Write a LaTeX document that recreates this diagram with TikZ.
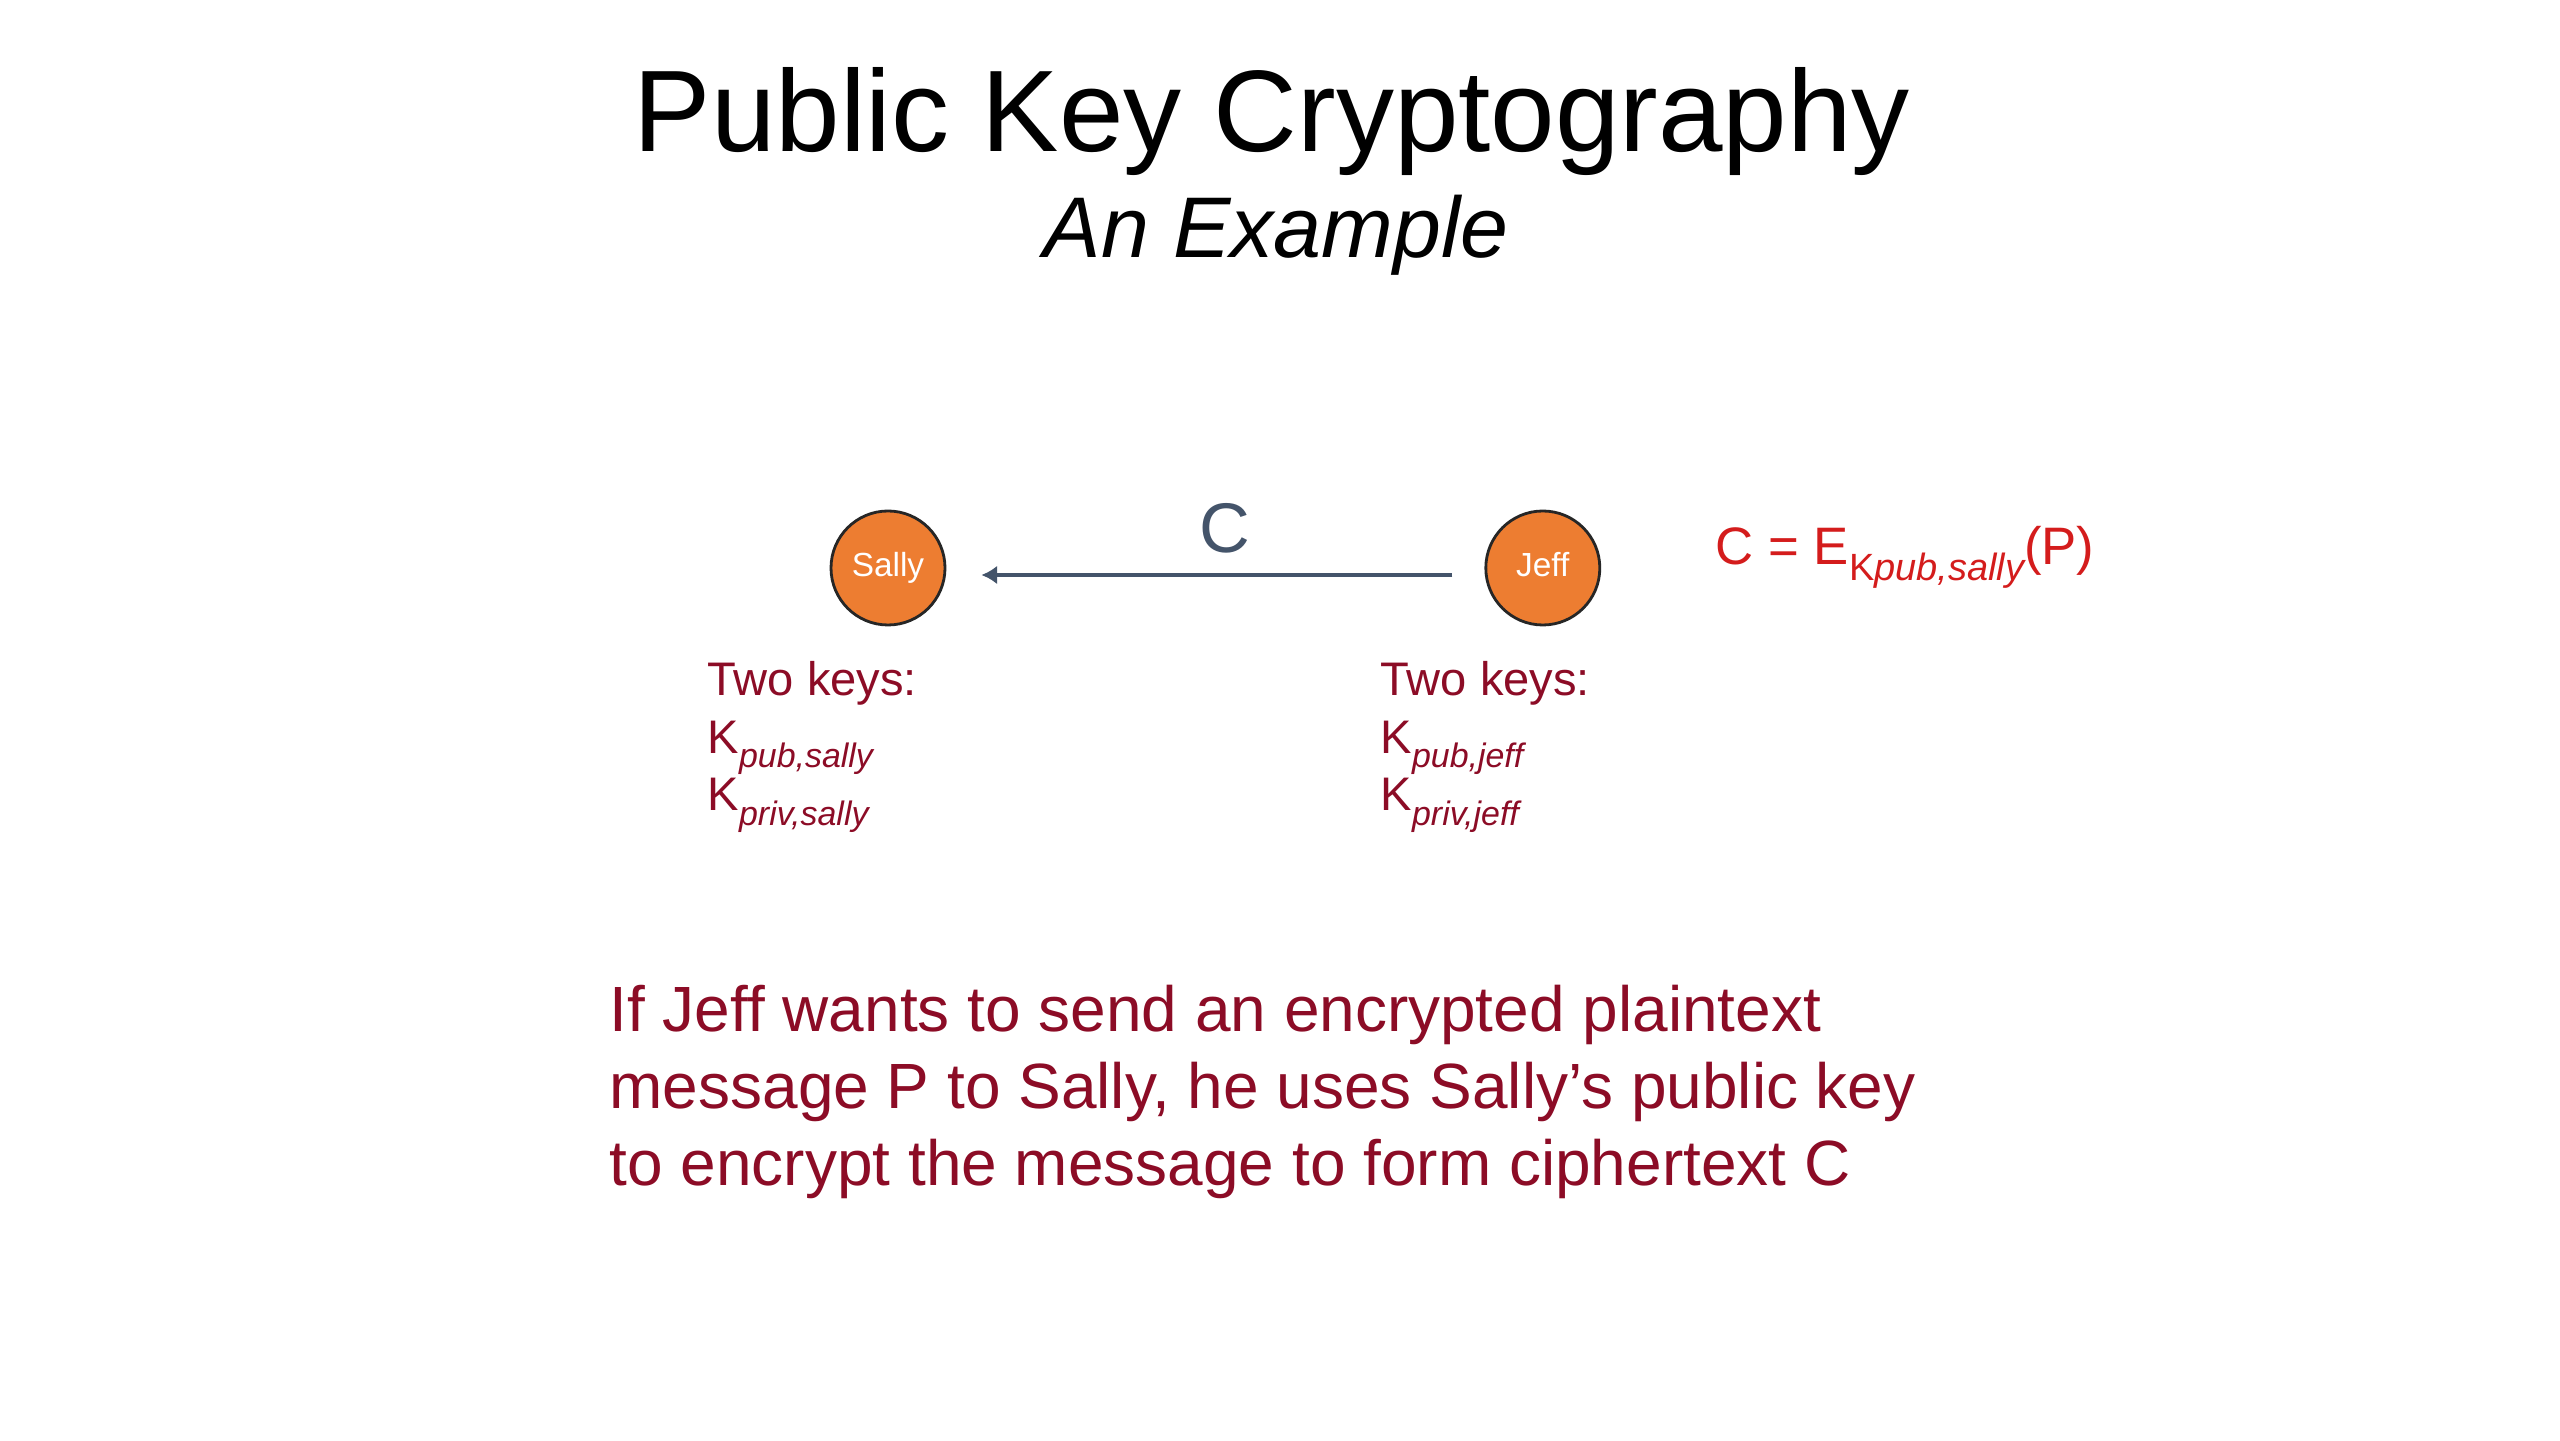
\documentclass[tikz,border=0pt]{standalone}
\usepackage{fontspec}
\setmainfont{Liberation Sans}
\usepackage{graphicx}
\usepackage{tikz}
\usetikzlibrary{arrows.meta,positioning}
\definecolor{SlideOrange}{RGB}{237,125,49}
\definecolor{KeyMaroon}{RGB}{140,12,38}
\definecolor{FormulaRed}{RGB}{212,28,28}
\definecolor{ArrowSlate}{RGB}{68,84,106}
\newcommand{\keysub}[1]{\raisebox{-.3em}{\scalebox{.72}{#1}}}

\begin{document}
\begin{tikzpicture}[>=Latex,
  person/.style={circle,draw=black!85,line width=.8pt,fill=SlideOrange,minimum size=1.14cm,inner sep=0pt,text height=7pt,text depth=2pt,text=white,font=\fontsize{9.5}{11}\selectfont},
  keys/.style={KeyMaroon,align=left,anchor=base west,inner sep=0pt,font=\fontsize{13.4}{16.5}\selectfont}]
\fill[white] (0,0) rectangle (25.6,14.4);
\useasboundingbox (0,0) rectangle (25.6,14.4);
\node[anchor=base,font=\fontsize{33}{40}\selectfont] (title) at (12.72,12.88){Public Key Cryptography};
\node[anchor=base,font=\fontsize{24.5}{30}\selectfont\itshape] (subtitle) at (12.76,11.82){An Example};
\node[person] (sally) at (8.88,8.72){Sally};
\node[person,right=5.38cm of sally] (jeff){Jeff};
\draw[->,ArrowSlate,line width=1.1pt,arrows={-Latex[length=4.5pt,width=5.4pt]},shorten <=.32cm,shorten >=.35cm] ([yshift=-.07cm]jeff.west) -- ([yshift=-.07cm]sally.east)
  node[midway,above=.2cm,inner sep=0pt,xshift=.09cm,font=\fontsize{20}{24}\selectfont]{C};
\node[FormulaRed,anchor=base west,inner sep=0pt,font=\fontsize{15}{18}\selectfont] (formula) at (17.15,8.75){C = E\keysub{K\itshape pub,sally}(P)};
% anchor base is the last line
\node[keys] (sallykeys) at (7.07,6.29){Two keys:\\K\keysub{\itshape pub,sally}\\K\keysub{\itshape priv,sally}};
\node[keys] (jeffkeys) at (13.80,6.29){Two keys:\\K\keysub{\itshape pub,jeff}\\K\keysub{\itshape priv,jeff}};
\node[KeyMaroon,align=left,anchor=base west,inner sep=0pt,font=\fontsize{18.2}{22}\selectfont] (message) at (6.09,2.54){If Jeff wants to send an encrypted plaintext\\message P to Sally, he uses Sally’s public key\\to encrypt the message to form ciphertext C};
\end{tikzpicture}
\end{document}
